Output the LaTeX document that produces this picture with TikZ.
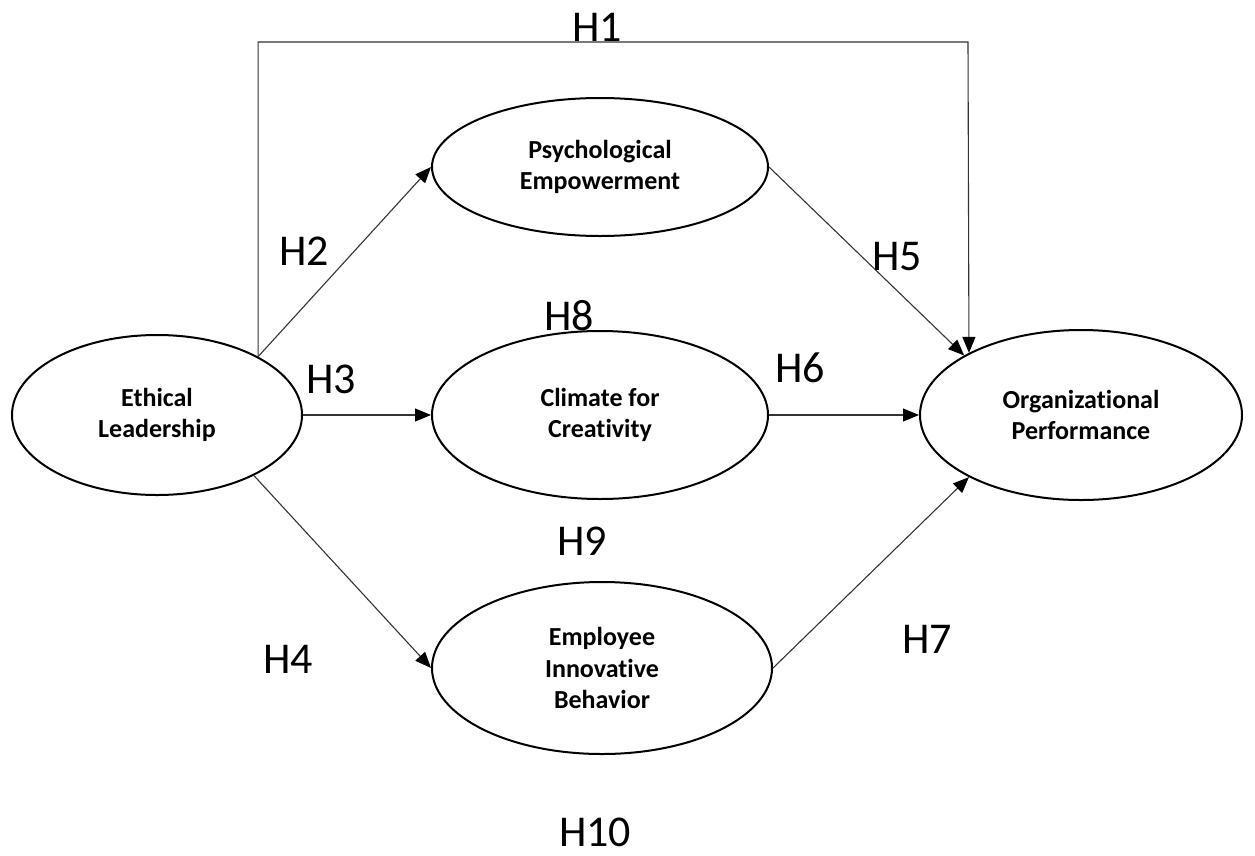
\documentclass[tikz,border=0pt]{standalone}
\usepackage{fontspec}
\setmainfont{Carlito}[Ligatures=NoCommon]
\usetikzlibrary{shapes.geometric,arrows.meta}
\begin{document}
\begin{tikzpicture}[x=1pt,y=-1pt,
  oval/.style={ellipse,draw=black,line width=2pt,inner sep=0pt,align=center,
    font=\fontsize{26}{31.5}\selectfont\bfseries},
  conn/.style={draw=black!80,line width=1.1pt,-{Triangle[length=16pt,width=13pt,color=black]}},
  hlab/.style={anchor=base,inner sep=0pt,font=\fontsize{44}{48}\selectfont}]
\useasboundingbox (0,0) rectangle (1255,855);
\node[oval,minimum width=290pt,minimum height=160pt] (EL) at (157,415) {Ethical\\Leadership};
\node[oval,minimum width=336pt,minimum height=138pt] (PE) at (600,167) {Psychological\\Empowerment};
\node[oval,minimum width=336pt,minimum height=168pt] (CC) at (600,415) {Climate for\\Creativity};
\node[oval,minimum width=340pt,minimum height=172pt] (EIB) at (602,668) {Employee\\Innovative\\Behavior};
\node[oval,minimum width=322pt,minimum height=170pt] (OP) at (1081,415) {Organizational\\Performance};
\coordinate (h1top) at (968,42);
\draw[conn] (EL.30) |- (h1top) -- (OP.151.8);
\draw[conn] (EL.30) -- (PE.west);
\draw[conn] (EL.east) -- (CC.west);
\draw[conn] (EL.-32) -- (EIB.west);
\draw[conn] (PE.east) -- (OP.153);
\draw[conn] (CC.east) -- (OP.west);
\draw[conn] (EIB.east) -- (OP.-151.5);
\node[hlab] (h1) at (597,41) {H1};
\node[hlab] (h2) at (304,265) {H2};
\node[hlab] (h8) at (569,330) {H8};
\node[hlab] (h3) at (331,393) {H3};
\node[hlab] (h6) at (800,382) {H6};
\node[hlab] (h5) at (897,270) {H5};
\node[hlab] (h9) at (582,555) {H9};
\node[hlab] (h4) at (288,673) {H4};
\node[hlab] (h7) at (927,653) {H7};
\node[hlab] (h10) at (595,846) {H10};
\end{tikzpicture}
\end{document}
